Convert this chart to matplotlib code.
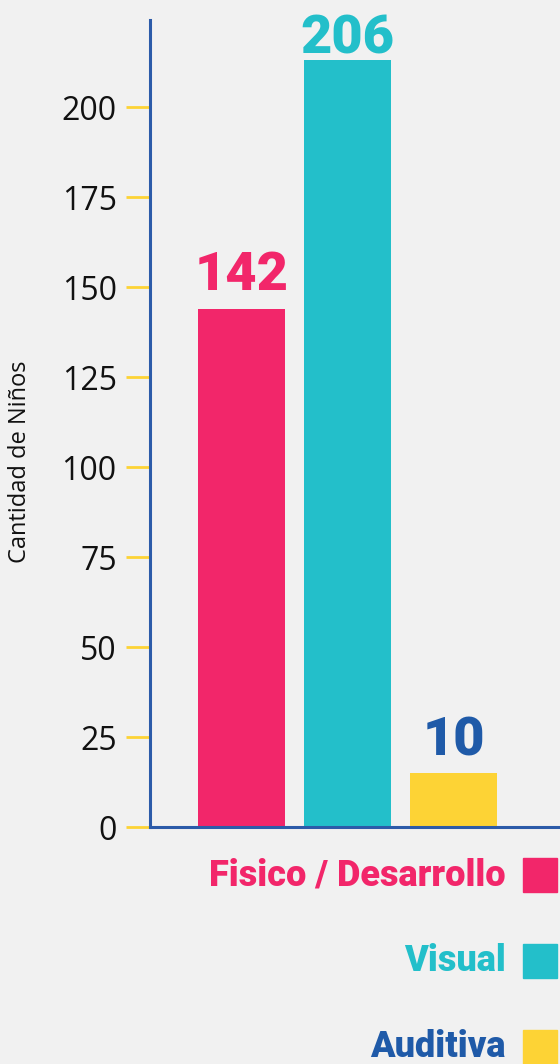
import matplotlib.pyplot as plt
from matplotlib.patches import Rectangle

# data
categories = ["Fisico / Desarrollo", "Visual", "Auditiva"]
bar_heights = [144, 213, 15]          # drawn heights
value_labels = ["142", "206", "10"]   # printed labels
yticks = [0, 25, 50, 75, 100, 125, 150, 175, 200]

bar_colors = ["#f2266a", "#23bfca", "#fdd335"]
label_colors = ["#f2266a", "#23bfca", "#1f5aa8"]
axis_blue = "#2c5ba9"
tick_yellow = "#fdd335"
bg = "#f1f1f1"

heavy = ["Roboto", "DejaVu Sans"]
plain = ["Open Sans", "DejaVu Sans"]

W, H = 560, 1064
fig = plt.figure(figsize=(W / 100, H / 100), dpi=100, facecolor=bg)

# axes box in pixels: left spine x=150, baseline y=827, top y=20
ax = fig.add_axes([150 / W, (H - 827) / H, 1 - 150 / W, (827 - 20) / H])
ax.set_facecolor("none")

x = range(len(categories))
ax.bar(x, bar_heights, width=0.82, color=bar_colors, zorder=2)

ax.set_xlim(-0.863, 3.0)
ax.set_ylim(0, (827 - 20) / 3.6)

# value labels above bars (gap in px between bar top and text baseline)
pads = [19, 7, 17]
for i, (h, lab) in enumerate(zip(bar_heights, value_labels)):
    ax.annotate(lab, (i, h), xytext=(0, pads[i] * 0.72), textcoords="offset points",
                ha="center", va="baseline", fontsize=39, fontweight="black",
                family=heavy, color=label_colors[i])

for s in ["top", "right"]:
    ax.spines[s].set_visible(False)
for s in ["left", "bottom"]:
    ax.spines[s].set_color(axis_blue)
    ax.spines[s].set_linewidth(2.2)

ax.set_xticks([])
ax.set_yticks(yticks)
ax.tick_params(axis="y", length=17, width=2, color=tick_yellow, pad=7,
               labelsize=23, labelcolor="#111111")
for t in ax.get_yticklabels():
    t.set_family(plain)

fig.text(20 / W, (H - 462) / H, "Cantidad de Niños", rotation=90, ha="center",
         va="center", fontsize=17, family=plain, color="#111111")

# legend on the right, rows 86 px apart
for i, (cat, col) in enumerate(zip(categories, bar_colors)):
    base = 885 + 86 * i
    fig.text(506 / W, (H - base) / H, cat, ha="right", va="baseline",
             fontsize=26, fontweight="black", family=heavy, color=label_colors[i])
    fig.patches.append(Rectangle((523 / W, (H - base - 7) / H), 34 / W, 34 / H,
                                 transform=fig.transFigure, color=col))

fig.savefig("out.png", dpi=100, facecolor=bg)
